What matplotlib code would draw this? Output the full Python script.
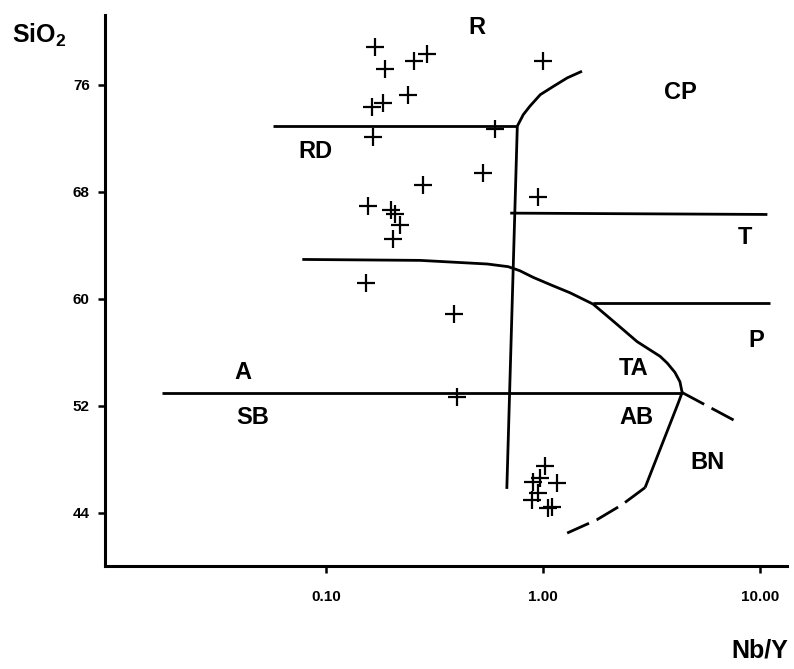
import numpy as np
import matplotlib
matplotlib.use("Agg")
import matplotlib.pyplot as plt

plt.rcParams['font.family'] = ['Liberation Sans', 'DejaVu Sans']
plt.rcParams['font.weight'] = 'bold'
plt.rcParams['mathtext.fontset'] = 'custom'
plt.rcParams['mathtext.bf'] = 'Liberation Sans:bold'
plt.rcParams['mathtext.rm'] = 'Liberation Sans:bold'

# samples (Nb/Y, SiO2)
nby = [0.168, 0.187, 0.254, 0.292, 0.239, 0.163, 0.183, 0.165, 1.00, 0.601,
       0.280, 0.156, 0.199, 0.208, 0.219, 0.204, 0.153, 0.529, 0.948, 0.389,
       0.401, 1.02, 0.97, 0.90, 1.16, 0.95, 0.89, 1.05, 1.10]
sio2 = [78.8, 77.2, 77.8, 78.3, 75.25, 74.3, 74.65, 72.1, 77.8, 72.7,
        68.5, 66.95, 66.65, 66.35, 65.5, 64.5, 61.2, 69.4, 67.6, 58.9,
        52.7, 47.5, 46.6, 46.3, 46.25, 45.5, 45.0, 44.4, 44.45]

# field boundaries
rd_top_x, rd_top_y = [0.057, 0.76], [72.9, 72.9]
rhy_x, rhy_y = [0.76, 0.68], [72.9, 45.8]
cp_x = [0.76, 0.81, 0.87, 0.97, 1.11, 1.29, 1.51]
cp_y = [72.9, 73.76, 74.4, 75.25, 75.85, 76.5, 77.0]
t_x, t_y = [0.705, 10.8], [66.4, 66.3]
ta_x = [0.0776, 0.271, 0.552, 0.69, 0.78, 0.90, 1.10, 1.33, 1.70, 2.15,
        2.71, 3.46, 3.73, 4.05, 4.27, 4.37]
ta_y = [62.94, 62.87, 62.6, 62.4, 62.1, 61.6, 61.0, 60.45, 59.6, 58.2,
        56.8, 55.7, 55.2, 54.5, 53.8, 53.0]
p_x, p_y = [1.70, 11.1], [59.7, 59.7]
sb_x, sb_y = [0.0175, 4.37], [53.0, 53.0]
bn_x, bn_y = [4.37, 4.19, 2.95], [53.0, 52.2, 45.9]
bn_dash_x, bn_dash_y = [2.95, 2.3, 1.77, 1.29], [45.9, 44.6, 43.5, 42.5]
p_dash_x, p_dash_y = [4.37, 7.84], [53.0, 50.8]

fields = ["R", "CP", "RD", "T", "P", "TA", "A", "SB", "AB", "BN"]
field_x = [0.496, 4.28, 0.089, 8.5, 9.6, 2.6, 0.0415, 0.0457, 2.7, 5.7]
field_y = [80.3, 75.4, 71.0, 64.6, 56.9, 54.8, 54.5, 51.1, 51.1, 47.8]

fig = plt.figure(figsize=(7.94, 6.69), dpi=100)
ax = fig.add_axes([105 / 794, 1 - 566 / 669, (787 - 105) / 794, (566 - 15) / 669])

lw = 2.0
for xs, ys in [(rd_top_x, rd_top_y), (rhy_x, rhy_y), (cp_x, cp_y), (t_x, t_y),
               (ta_x, ta_y), (p_x, p_y), (sb_x, sb_y), (bn_x, bn_y)]:
    ax.plot(xs, ys, color='black', lw=lw, solid_capstyle='butt',
            solid_joinstyle='round')
for xs, ys in [(bn_dash_x, bn_dash_y), (p_dash_x, p_dash_y)]:
    ax.plot(xs, ys, color='black', lw=lw, linestyle=(0, (9, 3)))

ax.plot(nby, sio2, linestyle='none', marker='+', markersize=13,
        markeredgewidth=1.6, color='black')

for lab, x, y in zip(fields, field_x, field_y):
    ax.text(x, y, lab, fontsize=17, fontweight='bold', ha='center', va='center')

ax.set_xscale('log')
ax.set_xlim(0.00956, 13.3)
ax.set_ylim(40.04, 81.2)
ax.set_xticks([0.1, 1, 10])
ax.set_xticklabels(["0.10", "1.00", "10.00"])
ax.xaxis.set_minor_locator(matplotlib.ticker.NullLocator())
ax.set_yticks([44, 52, 60, 68, 76])

for s in ['top', 'right']:
    ax.spines[s].set_visible(False)
for s in ['left', 'bottom']:
    ax.spines[s].set_linewidth(2.2)
ax.tick_params(axis='y', length=5, width=1.8, pad=6, labelsize=11)
ax.tick_params(axis='x', length=5, width=1.8, pad=12, labelsize=11)
for t in ax.get_xticklabels() + ax.get_yticklabels():
    t.set_fontweight('bold')

fig.text(12 / 794, 1 - 35 / 669, r'$\mathbf{SiO_2}$', fontsize=18, ha='left', va='center')
fig.text(788 / 794, 1 - 650 / 669, 'Nb/Y', fontsize=18, fontweight='bold',
         ha='right', va='center')

fig.savefig('out.png', dpi=100)
